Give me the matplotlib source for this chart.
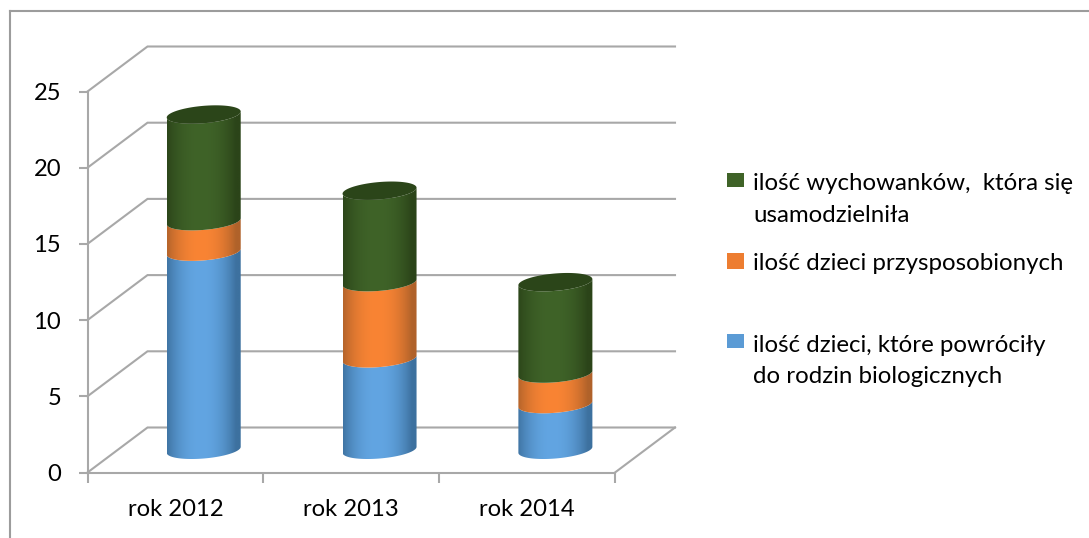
import numpy as np
import matplotlib
matplotlib.use("Agg")
import matplotlib.pyplot as plt
from matplotlib.lines import Line2D
from matplotlib.patches import Polygon, Rectangle
from matplotlib.colors import to_rgb

# ---- data ----
categories = ["rok 2012", "rok 2013", "rok 2014"]
powrocily = [13, 6, 3]
przysposobione = [2, 5, 2]
usamodzielnieni = [7, 6, 6]
y_ticks = [0, 5, 10, 15, 20, 25]
legend_lines = [
    ("ilość wychowanków,  która się", "usamodzielniła"),
    ("ilość dzieci przysposobionych",),
    ("ilość dzieci, które powróciły", "do rodzin biologicznych"),
]

# ---- style ----
W, H = 1089, 538
GRAY = "#a8a8a8"
FONT = ["Lato", "DejaVu Sans"]
TICK_FS = 17.1
LEG_FS = 17.3
BLUE = ("#3d719f", "#62a5e2")
ORANGE = ("#b0622a", "#f98434")
GREEN = ("#2b4419", "#3f6328")
CAP = "#2b4519"

plt.rcParams["font.family"] = FONT
fig = plt.figure(figsize=(W / 100, H / 100), dpi=100)

def px(x, y):
    return x / W, 1 - y / H

# outer frame
for xs, ys in (((10, 10), (11, 538)), ((10, 1089), (11, 11))):
    p = [px(a, b) for a, b in zip(xs, ys)]
    fig.add_artist(Line2D([p[0][0], p[1][0]], [p[0][1], p[1][1]], color="#9c9c9c", lw=1.5))

x0, x1, y_top, y_bot = 87.5, 615, 91.5, 472.5
ax = fig.add_axes([x0 / W, 1 - y_bot / H, (x1 - x0) / W, (y_bot - y_top) / H])
ax.patch.set_alpha(0)
XL, YL = (-0.5, 2.5), (0, 25)
ux = (x1 - x0) / 3.0          # px per category
uy = (y_bot - y_top) / 25.0   # px per value

# 3-D depth offsets expressed in data units
dx_back, dy_back = 60 / ux, 45 / uy
dx_mid, dy_mid = 28.3 / ux, 22.7 / uy
half_w = 37 / ux
ell_b, ell_s = 8.7 / uy, 3.0 / uy

# walls and floor
for v in y_ticks:
    ax.plot([XL[0], XL[0] + dx_back, XL[1] + dx_back],
            [v, v + dy_back, v + dy_back], color=GRAY, lw=1.5, clip_on=False, zorder=1,
            solid_joinstyle="miter")
ax.plot([XL[1], XL[1] + dx_back], [0, dy_back], color=GRAY, lw=1.5, clip_on=False, zorder=1)

def front_arc(cx, cy, n=60):
    t = np.linspace(0, np.pi, n)
    return cx + half_w * np.cos(t), cy - ell_b * np.sin(t) + ell_s * np.cos(t)

def gradient(colors):
    edge, mid = np.array(to_rgb(colors[0])), np.array(to_rgb(colors[1]))
    u = np.linspace(-1, 1, 200)
    w = np.clip(1 - np.abs((u + 0.08) / 0.95) ** 2.2, 0, 1)[:, None]
    return (edge + (mid - edge) * w)[None, :, :]

def segment(cat, lo, hi, colors, z):
    cx = cat + dx_mid
    xb, yb = front_arc(cx, lo + dy_mid)
    xt, yt = front_arc(cx, hi + dy_mid)
    poly = Polygon(np.column_stack([np.r_[xb, xt[::-1]], np.r_[yb, yt[::-1]]]),
                   closed=True, transform=ax.transData, fc="none", ec="none")
    ax.add_patch(poly)
    im = ax.imshow(gradient(colors), extent=[cx - half_w, cx + half_w, lo, hi + 2 * dy_mid],
                   aspect="auto", interpolation="bilinear", zorder=z, clip_on=True)
    im.set_clip_path(poly)

for i in range(len(categories)):
    b, o, g = powrocily[i], przysposobione[i], usamodzielnieni[i]
    segment(i, 0, b, BLUE, 3)
    segment(i, b, b + o, ORANGE, 3)
    segment(i, b + o, b + o + g, GREEN, 3)
    # cylinder top
    t = np.linspace(0, 2 * np.pi, 120)
    cx, cy = i + dx_mid, b + o + g + dy_mid
    ax.fill(cx + half_w * np.cos(t), cy + ell_b * np.sin(t) + ell_s * np.cos(t),
            color=CAP, lw=0, zorder=4, clip_on=False)

ax.set_xlim(*XL)
ax.set_ylim(*YL)
for s in ("top", "right"):
    ax.spines[s].set_visible(False)
for s in ("left", "bottom"):
    ax.spines[s].set_color(GRAY)
    ax.spines[s].set_linewidth(1.5)
ax.set_yticks(y_ticks)
ax.tick_params(axis="y", length=6.5, width=1.5, color=GRAY, pad=12.5,
               labelsize=TICK_FS, labelcolor="black")
ax.set_xticks([-0.5, 0.5, 1.5, 2.5])
ax.set_xticklabels([])
ax.tick_params(axis="x", which="major", length=7, width=1.5, color=GRAY)
ax.set_xticks(range(len(categories)), minor=True)
ax.set_xticklabels(categories, minor=True)
ax.tick_params(axis="x", which="minor", length=0, pad=19, labelsize=TICK_FS)

# legend
entries = [
    (GREEN[1], (173, 187), (190, 222)),
    ("#ed7d31", (253, 269), (270.5,)),
    ("#5b9bd5", (334, 348), (351.7, 383)),
]
for (col, (yt, yb), baselines), lines in zip(entries, legend_lines):
    fig.add_artist(Rectangle(px(727, yb), 17 / W, (yb - yt) / H, transform=fig.transFigure,
                             fc=col, ec="none"))
    for base, line in zip(baselines, lines):
        xx, yy = px(753, base)
        fig.text(xx, yy, line, fontsize=LEG_FS, va="baseline", ha="left", color="black")

fig.savefig("out.png", dpi=100)
